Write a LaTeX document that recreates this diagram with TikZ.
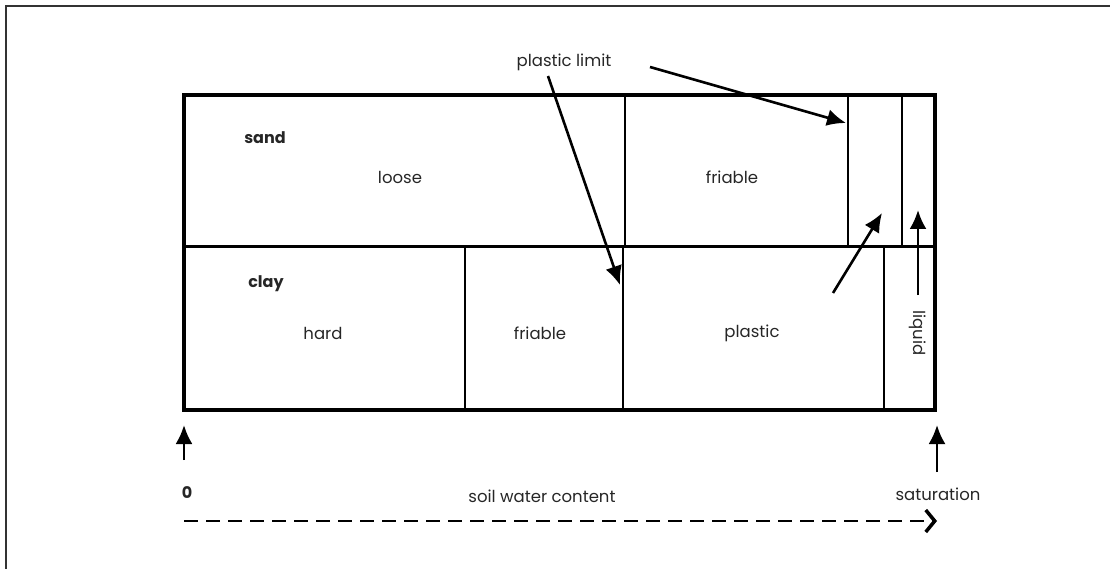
\documentclass[tikz,border=0pt]{standalone}
\usepackage{fontspec}
\setmainfont{Poppins}
\usetikzlibrary{arrows.meta, positioning, calc}
\tikzset{
x=1pt, y=-1pt,
black!85,
text=black!85,
zone/.style={font=\fontsize{16.5}{19}\selectfont, inner sep=0pt},
soil/.style={zone, font=\fontsize{16}{19}\selectfont\bfseries},
pointer/.style={-{Latex[length=19pt, width=17pt]}, line width=2.6pt},
outline/.style={line width=4pt},
divide/.style={line width=1.5pt},
rough/.style={line width=2.4pt},
}

\begin{document}
\begin{tikzpicture}
	\useasboundingbox (0,0) rectangle (1110,569);
	% page frame
	\draw[black!80, line width=2pt] (1110,6) -- (6,6) -- (6,569);

	% table
	\coordinate (nw) at (184,95);
	\coordinate (se) at (935,410);
	\draw[outline] (nw) rectangle (se);
	\draw[line width=3pt] (184,247) -- (935,247);
	\draw[divide] (625,95) -- (625,247);
	\draw[rough] (848,95) -- (848,247);
	\draw[divide] (902,95) -- (902,247);
	\draw[divide] (465,247) -- (465,410);
	\draw[divide] (623,247) -- (623,410);
	\draw[rough] (884,247) -- (884,410);

	% labels
	\node[soil] (sand) at (265,138) {sand};
	\node[zone] (loose) at (400,177) {loose};
	\node[zone] (friable1) at (732,177) {friable};
	\node[soil] (clay) at (266,284) {clay};
	\node[zone] (hard) at (323,333) {hard};
	\node[zone] (friable2) at (540,333) {friable};
	\node[zone] (plastic) at (752,333) {plastic};
	\node[zone, rotate=-90] (liquid) at (918,333) {liquid};
	\node[zone] (limit) at (564,62) {plastic limit};
	\node[soil] (zero) at (187,493) {0};
	\node[zone] (content) at (542,496) {soil water content};
	\node[zone] (saturation) at (938,494) {saturation};

	% pointers
	\coordinate (p1) at (650,67);
	\coordinate (p2) at (548,76);
	\coordinate (p3) at (833,293);
	\coordinate (p4) at (918,295);
	\coordinate (p5) at (184,460);
	\coordinate (p6) at (937,472);
	\coordinate (t1) at (846,123);
	\coordinate (t2) at (620,285);
	\coordinate (t3) at (882,213);
	\coordinate (t4) at (918,210);
	\coordinate (t5) at (184,425);
	\coordinate (t6) at (937,425);
	\draw[pointer] (p1) -- (t1);
	\draw[pointer] (p2) -- (t2);
	\draw[pointer] (p3) -- (t3);
	\draw[pointer] (p4) -- (t4);
	\draw[pointer] (p5) -- (t5);
	\draw[pointer] (p6) -- (t6);

	% water axis
	\coordinate (w0) at (184,521);
	\coordinate (w1) at (937,521);
	\draw[-{Straight Barb[length=9pt, width=22pt, line width=3.5pt]}, line width=2pt, dash pattern=on 14pt off 8pt] (w0) -- (w1);
\end{tikzpicture}
\end{document}
